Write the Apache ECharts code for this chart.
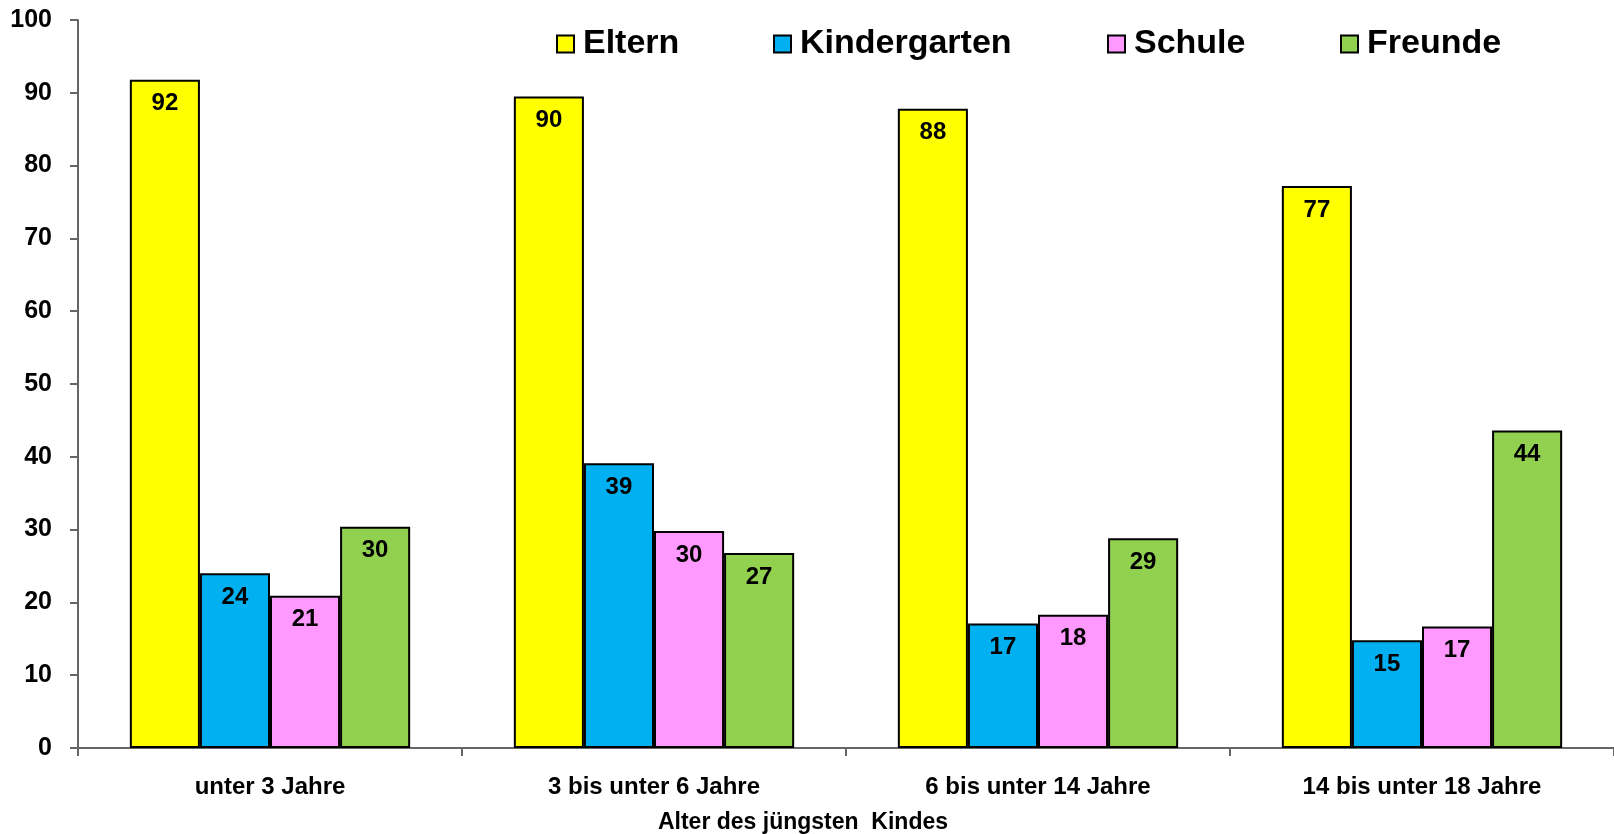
<!DOCTYPE html>
<html>
<head>
<meta charset="utf-8">
<script src="https://cdn.jsdelivr.net/npm/echarts@6/dist/echarts.min.js"></script>
<style>
	html, body { margin: 0; padding: 0; background: #fff; }
	#main { width: 1614px; height: 834px; }
</style>
</head>
<body>
<div id="main"></div>
<script>
	// Altersgruppen des jüngsten Kindes
	const categories = ['unter 3 Jahre', '3 bis unter 6 Jahre', '6 bis unter 14 Jahre', '14 bis unter 18 Jahre'];
	const seriesNames = ['Eltern', 'Kindergarten', 'Schule', 'Freunde'];
	const eltern = [91.8, 89.5, 87.8, 77.2];
	const kindergarten = [24.0, 39.1, 17.1, 14.8];
	const schule = [20.9, 29.8, 18.3, 16.7];
	const freunde = [30.4, 26.8, 28.8, 43.6];
	const yTicks = [0, 10, 20, 30, 40, 50, 60, 70, 80, 90, 100];

	const colors = ['#FFFF00', '#00B0F0', '#FF99FF', '#92D050'];
	const font = 'Liberation Sans, Arial, sans-serif';
	// linke Kante der Legenden-Symbole
	const legendLeft = [556, 773, 1107, 1340];

	let myChart = echarts.init(document.getElementById('main'));

	function barSeries(name, data, color) {
		return {
			name: name,
			type: 'bar',
			data: data,
			barGap: '0%',
			barCategoryGap: '27%',
			itemStyle: {
				color: color,
				borderColor: '#000',
				borderWidth: 2
			},
			label: {
				show: true,
				position: 'insideTop',
				distance: 12,
				color: '#000',
				fontFamily: font,
				fontWeight: 'bold',
				fontSize: 24,
				formatter: p => Math.round(p.value)
			}
		};
	}

	let option = {
		animation: false,
		backgroundColor: '#fff',
		grid: {
			left: 78,
			right: 0,
			top: 20,
			bottom: 86,
			outerBoundsMode: 'none',
			containLabel: false
		},
		legend: seriesNames.map((name, i) => ({
			left: legendLeft[i],
			top: 27,
			padding: 0,
			itemWidth: 17,
			itemHeight: 17,
			icon: 'rect',
			itemStyle: { borderColor: '#000', borderWidth: 2 },
			textStyle: {
				fontFamily: font,
				fontWeight: 'bold',
				fontSize: 34,
				color: '#000',
				padding: [0, 0, 0, 4]
			},
			data: [name]
		})),
		xAxis: {
			type: 'category',
			data: categories,
			name: 'Alter des jüngsten  Kindes',
			nameLocation: 'middle',
			nameGap: 63,
			nameTextStyle: {
				fontFamily: font,
				fontWeight: 'bold',
				fontSize: 23,
				color: '#000',
				padding: [0, 86, 0, 0]
			},
			axisLine: { lineStyle: { color: '#666', width: 2 } },
			axisTick: { show: true, length: 8, lineStyle: { color: '#666', width: 2 } },
			axisLabel: {
				margin: 27,
				fontFamily: font,
				fontWeight: 'bold',
				fontSize: 24,
				color: '#000'
			}
		},
		yAxis: {
			type: 'value',
			min: yTicks[0],
			max: yTicks[yTicks.length - 1],
			interval: 10,
			splitLine: { show: false },
			axisLine: { show: true, lineStyle: { color: '#666', width: 2 } },
			axisTick: { show: true, length: 8, lineStyle: { color: '#666', width: 2 } },
			axisLabel: {
				margin: 26,
				fontFamily: font,
				fontWeight: 'bold',
				fontSize: 25,
				color: '#000'
			}
		},
		series: [
			barSeries(seriesNames[0], eltern, colors[0]),
			barSeries(seriesNames[1], kindergarten, colors[1]),
			barSeries(seriesNames[2], schule, colors[2]),
			barSeries(seriesNames[3], freunde, colors[3])
		]
	};

	myChart.setOption(option);
</script>
</body>
</html>
